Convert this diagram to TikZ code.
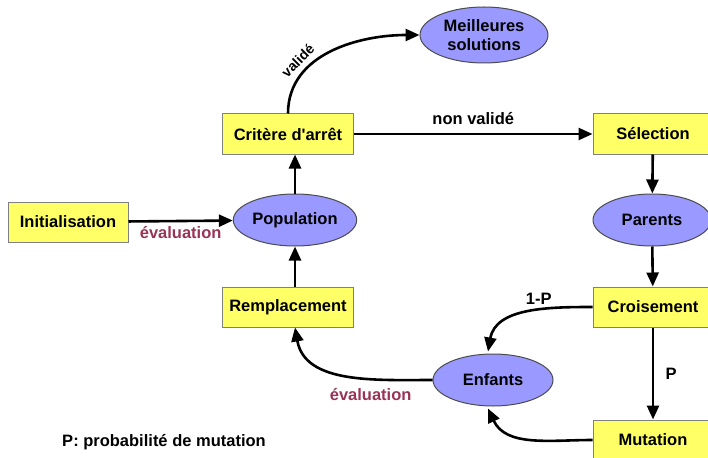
\documentclass[tikz,border=0pt]{standalone}
\usepackage{fontspec}
\setmainfont{Liberation Sans}[Ligatures=TeXOff]
\usepackage{xcolor}
\usepackage{tikz}
\usetikzlibrary{positioning,arrows.meta,calc,shapes.geometric}

\definecolor{boxyellow}{RGB}{255,255,102}
\definecolor{ovalblue}{RGB}{153,153,255}
\definecolor{evalred}{RGB}{153,51,85}

\begin{document}
\begin{tikzpicture}[x=1pt, y=-1pt, font=\fontsize{16.5}{19}\selectfont\bfseries,
    etape/.style={rectangle, draw=gray, line width=1pt, fill=boxyellow, minimum width=131pt, minimum height=40pt, inner sep=2pt},
    ovale/.style={ellipse, draw=black!70, line width=1pt, fill=ovalblue, minimum width=120pt, minimum height=52pt, inner sep=1pt, align=center},
    fleche/.style={-{Triangle[length=14pt,width=12pt]}, line width=2.6pt},
    eval/.style={text=evalred}]
  \useasboundingbox (0,0) rectangle (708,457);
  \clip (0,0) rectangle (708,457);

  \node[etape, minimum width=120pt] (init) at (68,222) {Initialisation};
  \node[ovale] (pop) at (295,220) {Population};
  \node[etape] (crit) at (288,134) {Crit\`ere d'arr\^et};
  \node[etape] (rempl) at (288,307) {Remplacement};
  \node[ovale, minimum width=128pt, minimum height=56pt] (meil) at (484,35) {Meilleures\\solutions};

  \node[etape, minimum width=120pt] (sel) at (653,134) {S\'election};
  \node[ovale, minimum width=118pt] (par) at (652,220) {Parents};
  \node[etape, minimum width=120pt] (crois) at (653,307) {Croisement};
  \node[etape, minimum width=120pt] (mut) at (653,440) {Mutation};
  \node[ovale] (enf) at (493,380) {Enfants};

  \node (legende) at (164,442) {P: probabilit\'e de mutation};

  % boucle principale
  \draw[fleche] (init) -- node[below=1pt, eval] {\'evaluation} (pop);
  \draw[fleche] (pop.north) -- (pop.north |- crit.south);
  \draw[fleche] (rempl.north -| pop.north) -- (pop.south);
  \draw[fleche] (crit.north) to[out=90, in=180]
    node[pos=0.31, sloped, above=2pt, font=\fontsize{14}{16}\selectfont\bfseries] {valid\'e} (meil.west);
  \draw[fleche] (crit.east) -- node[above=5pt] {non valid\'e} (sel.west);

  % operateurs
  \draw[fleche] (sel) -- (par);
  \draw[fleche] (par) -- (crois);
  \draw[fleche] (crois) -- node[right=8pt] {P} (mut);
  \draw[fleche] (crois.west) to[out=180, in=80] node[pos=0.4, above=1pt] {1-P} ($(enf.north)+(-5,-2)$);
  \draw[fleche] (mut.west) to[out=180, in=-65] ($(enf.south)+(-5,2)$);
  \draw[fleche] (enf.west) to[out=180, in=-80] node[pos=0.35, below=5pt, eval] {\'evaluation} (rempl.south -| pop.north);
\end{tikzpicture}
\end{document}
